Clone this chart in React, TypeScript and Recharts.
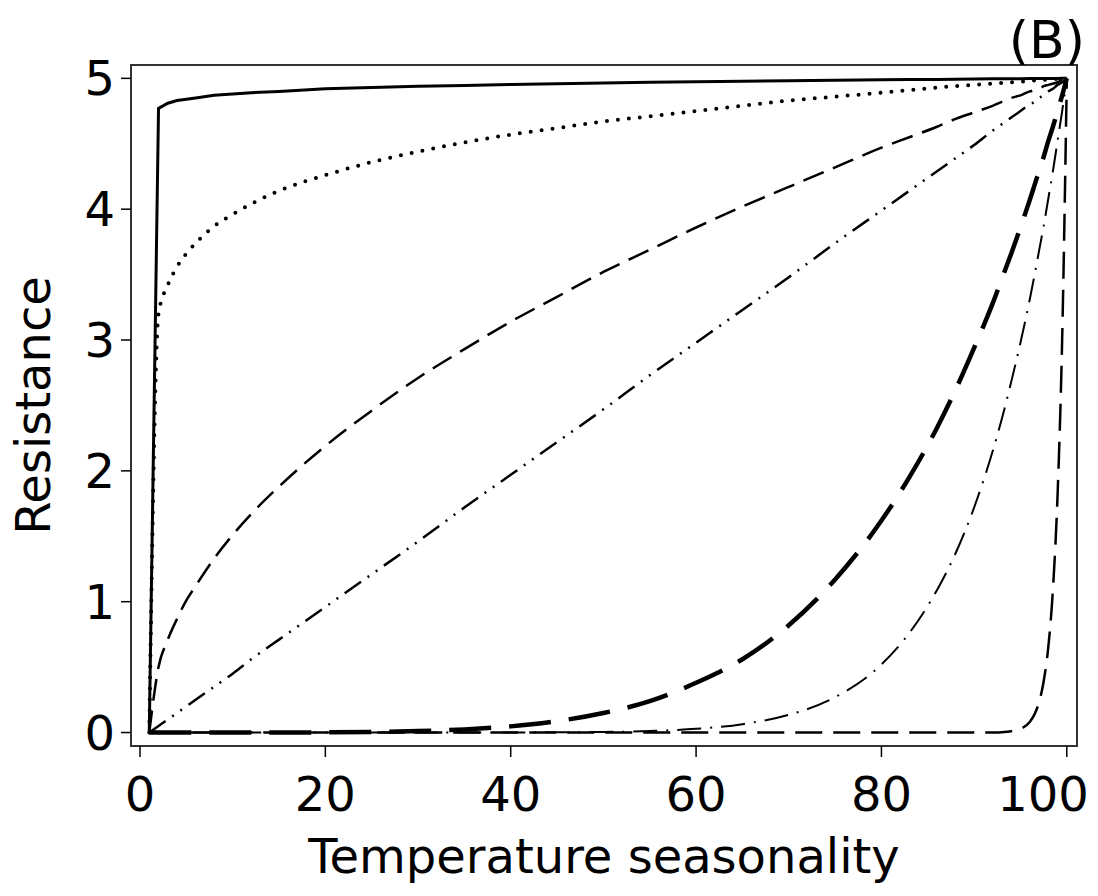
import { LineChart, Line, XAxis, YAxis, ReferenceArea, Label } from "recharts"

// x positions (temperature seasonality)
const seasonality = [
  1, 2, 3, 4, 5, 6, 8, 10, 12, 15, 20, 25, 30, 35, 40, 45, 50, 55, 60, 65, 70, 75, 80,
  83, 86, 88, 90, 92, 93, 94, 95, 96, 96.5, 97, 97.5, 98, 98.5, 99, 99.5, 100,
]

// resistance curves
const solidCurve = [
  0, 4.77, 4.81, 4.83, 4.84, 4.85, 4.87, 4.88, 4.89, 4.9, 4.92, 4.93, 4.94, 4.946, 4.953, 4.959, 4.965, 4.97, 4.974, 4.978, 4.982, 4.985, 4.989,
  4.991, 4.992, 4.993, 4.995, 4.996, 4.996, 4.997, 4.997, 4.998, 4.998, 4.998, 4.999, 4.999, 4.999, 4.999, 5, 5,
]
const dottedCurve = [
  0, 3.2, 3.42, 3.56, 3.66, 3.74, 3.87, 3.96, 4.04, 4.14, 4.26, 4.36, 4.44, 4.51, 4.57, 4.62, 4.67, 4.71, 4.75, 4.79, 4.83, 4.86, 4.89,
  4.91, 4.93, 4.94, 4.95, 4.96, 4.965, 4.97, 4.975, 4.98, 4.983, 4.985, 4.988, 4.99, 4.993, 4.995, 4.998, 5,
]
const dashedCurve = [
  0, 0.5, 0.71, 0.87, 1.01, 1.12, 1.33, 1.51, 1.67, 1.88, 2.19, 2.46, 2.71, 2.93, 3.14, 3.33, 3.52, 3.69, 3.86, 4.02, 4.17, 4.32, 4.47,
  4.55, 4.63, 4.69, 4.74, 4.79, 4.82, 4.85, 4.87, 4.9, 4.91, 4.92, 4.94, 4.95, 4.96, 4.97, 4.99, 5,
]
const dashDotDotCurve = [
  0, 0.05, 0.1, 0.15, 0.2, 0.25, 0.35, 0.45, 0.56, 0.71, 0.96, 1.21, 1.46, 1.72, 1.97, 2.22, 2.47, 2.73, 2.98, 3.23, 3.48, 3.74, 3.99,
  4.14, 4.29, 4.39, 4.49, 4.6, 4.65, 4.7, 4.75, 4.8, 4.82, 4.85, 4.87, 4.9, 4.92, 4.95, 4.97, 5,
]
const longDashCurve = [
  0, 0, 0, 0, 0, 0, 0, 0, 0, 0, 0.001, 0.004, 0.011, 0.024, 0.047, 0.087, 0.149, 0.24, 0.38, 0.56, 0.82, 1.17, 1.62,
  1.95, 2.33, 2.62, 2.94, 3.28, 3.47, 3.66, 3.86, 4.07, 4.18, 4.29, 4.4, 4.52, 4.63, 4.75, 4.87, 5,
]
const dashDotCurve = [
  0, 0, 0, 0, 0, 0, 0, 0, 0, 0, 0, 0, 0, 0, 0, 0.002, 0.004, 0.012, 0.028, 0.064, 0.135, 0.27, 0.52,
  0.76, 1.09, 1.37, 1.72, 2.15, 2.4, 2.68, 2.98, 3.31, 3.49, 3.68, 3.87, 4.08, 4.29, 4.52, 4.75, 5,
]
const steepCurve = [
  0, 0, 0, 0, 0, 0, 0, 0, 0, 0, 0, 0, 0, 0, 0, 0, 0, 0, 0, 0, 0, 0, 0,
  0, 0, 0, 0, 0.001, 0.003, 0.01, 0.028, 0.081, 0.137, 0.23, 0.39, 0.65, 1.09, 1.81, 3.01, 5,
]

const xTicks = [0, 20, 40, 60, 80, 100]
const yTicks = [0, 1, 2, 3, 4, 5]

const rows = seasonality.map((x, i) => ({
  x,
  solid: solidCurve[i],
  dotted: dottedCurve[i],
  dashed: dashedCurve[i],
  dashDotDot: dashDotDotCurve[i],
  longDash: longDashCurve[i],
  dashDot: dashDotCurve[i],
  steep: steepCurve[i],
}))

const X_DOMAIN: [number, number] = [-0.97, 101.1]
const Y_DOMAIN: [number, number] = [-0.103, 5.102]
const FONT = "'DejaVu Sans', Verdana, sans-serif"

// last label sits left of its tick so it stays inside the page
function XTick({ x, y, payload }: any) {
  const last = payload.value === xTicks[xTicks.length - 1]
  return (
    <text
      x={last ? x + 22 : x}
      y={y}
      dy="0.71em"
      textAnchor={last ? "end" : "middle"}
      fontSize={48}
      fontFamily={FONT}
      fill="#000"
    >
      {payload.value}
    </text>
  )
}

export default function App() {
  return (
    <div style={{ width: 1082, height: 880, fontFamily: FONT }}>
      <LineChart
        width={1082}
        height={880}
        data={rows}
        margin={{ top: 57, right: 13, left: 23, bottom: 42 }}
      >
        <XAxis
          dataKey="x"
          type="number"
          domain={X_DOMAIN}
          ticks={xTicks}
          allowDataOverflow
          axisLine={false}
          tickLine={{ stroke: "#000", strokeWidth: 1.5 }}
          tickSize={11}
          tickMargin={20}
          height={100}
          tick={<XTick />}
        >
          <Label
            content={({ viewBox }: any) => (
              <text
                x={viewBox.x + viewBox.width / 2}
                y={865}
                textAnchor="middle"
                fontSize={48}
                fontFamily={FONT}
                fill="#000"
              >
                Temperature seasonality
              </text>
            )}
          />
        </XAxis>
        <YAxis
          type="number"
          domain={Y_DOMAIN}
          ticks={yTicks}
          allowDataOverflow
          axisLine={false}
          tickLine={{ stroke: "#000", strokeWidth: 1.5 }}
          tickSize={10}
          tickMargin={6}
          width={100}
          tick={{ fill: "#000", fontSize: 48, fontFamily: FONT }}
        >
          <Label
            content={({ viewBox }: any) => {
              const cy = viewBox.y + viewBox.height / 2
              return (
                <g transform={`translate(42, ${cy}) rotate(-90)`}>
                  <text x={0} y={0} textAnchor="middle" fontSize={48} fontFamily={FONT} fill="#000">
                    Resistance
                  </text>
                </g>
              )
            }}
          />
        </YAxis>
        <ReferenceArea
          x1={X_DOMAIN[0]}
          x2={X_DOMAIN[1]}
          y1={Y_DOMAIN[0]}
          y2={Y_DOMAIN[1]}
          fill="none"
          fillOpacity={0}
          stroke="#333"
          strokeWidth={2}
          ifOverflow="visible"
        >
          <Label
            content={() => (
              <text x={1077} y={50} textAnchor="end" fontSize={52} fontFamily={FONT} fill="#000">
                (B)
              </text>
            )}
          />
        </ReferenceArea>
        <Line type="linear" dataKey="solid" stroke="#000" strokeWidth={3} dot={false} activeDot={false} isAnimationActive={false} />
        <Line type="monotone" dataKey="dotted" stroke="#000" strokeWidth={4} strokeDasharray="0 11" strokeLinecap="round" dot={false} activeDot={false} isAnimationActive={false} />
        <Line type="monotone" dataKey="dashed" stroke="#000" strokeWidth={2.5} strokeDasharray="22 10" dot={false} activeDot={false} isAnimationActive={false} />
        <Line type="monotone" dataKey="dashDotDot" stroke="#000" strokeWidth={2.5} strokeDasharray="20 8 2 8 2 8" dot={false} activeDot={false} isAnimationActive={false} />
        <Line type="monotone" dataKey="longDash" stroke="#000" strokeWidth={4.5} strokeDasharray="42 18" dot={false} activeDot={false} isAnimationActive={false} />
        <Line type="monotone" dataKey="dashDot" stroke="#000" strokeWidth={2} strokeDasharray="24 9 2 9" dot={false} activeDot={false} isAnimationActive={false} />
        <Line type="monotone" dataKey="steep" stroke="#000" strokeWidth={2.5} strokeDasharray="27 11" dot={false} activeDot={false} isAnimationActive={false} />
      </LineChart>
    </div>
  )
}
